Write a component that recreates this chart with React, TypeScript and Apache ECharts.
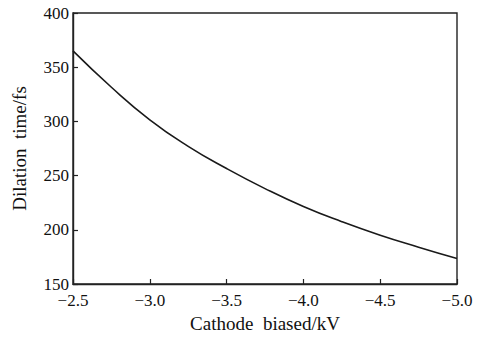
import React, { useEffect, useRef } from "react";
import * as echarts from "echarts";

const biasKV = [-2.5, -2.75, -3.0, -3.25, -3.5, -3.75, -4.0, -4.25, -4.5, -4.75, -5.0];
const dilationFs = [365, 331.5, 301.5, 277, 256.5, 238, 221.5, 207.5, 195, 184, 173.5];
const xTitle = "Cathode  biased/kV";
const yTitle = "Dilation  time/fs";

const fmtX = (v: number) => (v < 0 ? "\u2212" : "") + Math.abs(v).toFixed(1);

export default function App() {
  const ref = useRef<HTMLDivElement>(null);
  useEffect(() => {
    if (!ref.current) return;
    const chart = echarts.init(ref.current, null, { renderer: "svg" });
    const font = "Liberation Serif";
    const axisColor = "#222";
    chart.setOption({
      animation: false,
      backgroundColor: "#fff",
      grid: {
        left: 73,
        right: 24,
        top: 13,
        bottom: 54,
        show: true,
        borderColor: axisColor,
        borderWidth: 1.4,
        backgroundColor: "transparent",
      },
      xAxis: {
        type: "value",
        min: -5,
        max: -2.5,
        interval: 0.5,
        inverse: true,
        name: xTitle,
        nameLocation: "middle",
        nameGap: 30,
        nameTextStyle: { fontFamily: font, fontSize: 19, color: "#111" },
        axisLine: { lineStyle: { color: axisColor, width: 1.4 } },
        axisTick: { inside: true, length: 5, lineStyle: { color: axisColor, width: 1.2 } },
        axisLabel: {
          formatter: fmtX,
          fontFamily: font,
          fontSize: 17,
          color: "#111",
          margin: 8,
        },
        splitLine: { show: false },
      },
      yAxis: {
        type: "value",
        min: 150,
        max: 400,
        interval: 50,
        name: yTitle,
        nameLocation: "middle",
        nameGap: 44,
        nameTextStyle: { fontFamily: font, fontSize: 19, color: "#111" },
        axisLine: { show: true, lineStyle: { color: axisColor, width: 1.4 } },
        axisTick: { show: true, inside: true, length: 5, lineStyle: { color: axisColor, width: 1.2 } },
        axisLabel: { fontFamily: font, fontSize: 17, color: "#111", margin: 4 },
        splitLine: { show: false },
      },
      series: [
        {
          type: "line",
          data: biasKV.map((x, i) => [x, dilationFs[i]]),
          smooth: 0.5,
          showSymbol: false,
          lineStyle: { color: "#1a1a1a", width: 1.6 },
        },
      ],
    });
    return () => chart.dispose();
  }, []);
  return (
    <div
      ref={ref}
      style={{ position: "fixed", left: 0, top: 0, width: 481, height: 338 }}
    />
  );
}
